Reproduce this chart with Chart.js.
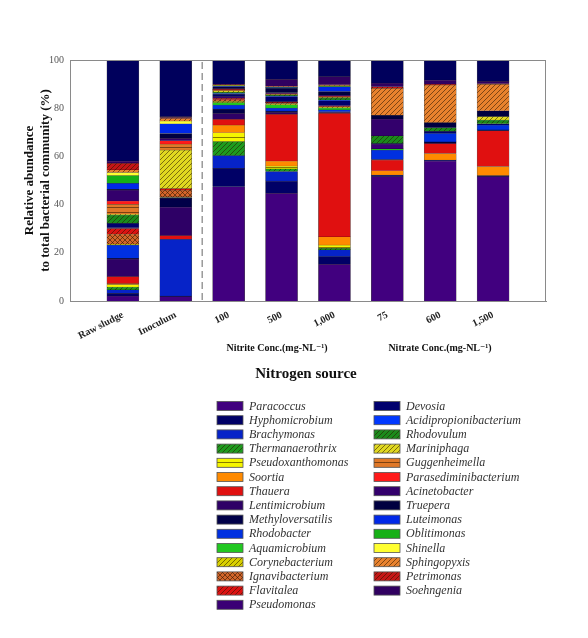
<!DOCTYPE html>
<html lang="en">
<head>
  <meta charset="UTF-8">
  <title>Relative abundance by nitrogen source</title>
  <script src="https://cdn.jsdelivr.net/npm/chart.js"></script>
  <style>
    body { margin: 0; padding: 0; background: #fff; }
    #wrap { width: 588px; height: 638px; }
  </style>
</head>
<body>
  <div id="wrap"><canvas id="chart" width="588" height="638"></canvas></div>

  <script>
    const categories = ['Raw sludge', 'Inoculum', '100', '500', '1,000', '75', '600', '1,500'];
    const species = [
      'Paracoccus', 'Hyphomicrobium', 'Brachymonas', 'Thermanaerothrix', 'Pseudoxanthomonas',
      'Soortia', 'Thauera', 'Lentimicrobium', 'Methyloversatilis', 'Rhodobacter',
      'Aquamicrobium', 'Corynebacterium', 'Ignavibacterium', 'Flavitalea', 'Pseudomonas',
      'Devosia', 'Acidipropionibacterium', 'Rhodovulum', 'Mariniphaga', 'Guggenheimella',
      'Parasediminibacterium', 'Acinetobacter', 'Truepera', 'Luteimonas', 'Oblitimonas',
      'Shinella', 'Sphingopyxis', 'Petrimonas', 'Soehngenia'
    ];
    const yTicks = [0, 20, 40, 60, 80, 100];

    // relative abundance (%) of each species, in species order, one array per sample
    const rawSludge   = [2.0, 1.2, 1.4, 1.2, 1.0, 0.4, 2.9, 7.3, 0.3, 5.5, 0, 0.4, 4.2, 2.3, 0.3, 1.8, 0, 3.5, 0.3, 4.1, 1.4, 4.5, 0.3, 2.5, 3.2, 1.3, 1.1, 2.7, 1.0];
    const inoculum    = [1.8, 0.2, 23.6, 0, 0, 0, 1.5, 11.9, 3.6, 0.3, 0, 0.3, 2.8, 0.6, 0, 0, 0, 0, 16.0, 2.5, 1.4, 1.0, 2.0, 4.0, 0, 1.2, 1.0, 0.4, 0.4];
    const nitrite100  = [47.4, 7.6, 5.3, 5.8, 3.7, 3.2, 2.4, 2.5, 1.7, 1.7, 1.0, 0.6, 0.6, 0.6, 0.7, 1.0, 0.3, 0.6, 0.5, 0.3, 0.3, 0.3, 0.8, 0.2, 0.2, 0.2, 0.1, 0.1, 0.2];
    const nitrite500  = [44.7, 5.1, 3.9, 1.1, 1.2, 2.1, 19.4, 0.8, 0.5, 1.2, 1.4, 0.5, 0.3, 0.2, 0.3, 2.0, 0.3, 0.4, 0.2, 0.2, 0.2, 0.4, 2.0, 0.2, 0.1, 0.1, 0.1, 0.1, 3.0];
    const nitrite1000 = [15.2, 3.2, 2.8, 0.7, 1.3, 3.4, 51.3, 0.3, 0.3, 0.8, 0.8, 0.3, 0.2, 0.2, 0.3, 2.0, 0.3, 0.8, 0.3, 0.2, 0.2, 0.5, 1.5, 2.0, 0.2, 0.2, 0.2, 0.2, 3.4];
    const nitrate75   = [51.6, 0.7, 0, 0, 0, 1.7, 4.5, 0, 0.2, 3.9, 0.5, 0, 0, 0, 2.0, 0.2, 0, 3.2, 0, 0, 0, 7.0, 1.5, 0, 0, 0, 11.2, 0.7, 1.5];
    const nitrate600  = [58.1, 0.4, 0, 0, 0, 2.7, 4.1, 0.3, 0.4, 3.6, 0, 0, 0, 0, 0, 0.8, 0, 1.5, 0, 0, 0, 0, 2.1, 0, 0, 0, 15.6, 0.3, 1.8];
    const nitrate1500 = [51.6, 0.4, 0, 0, 0, 3.8, 14.8, 0, 0.4, 2.0, 0, 0, 0, 0, 0, 0.5, 0, 1.6, 1.4, 0, 0, 0, 2.4, 0, 0, 0, 11.0, 0.2, 1.0];
    const others      = [41.9, 23.5, 10.1, 8.0, 6.9, 9.6, 8.3, 8.9];

    const samples = [rawSludge, inoculum, nitrite100, nitrite500, nitrite1000, nitrate75, nitrate600, nitrate1500];

    // colour and fill style per species (same order as species)
    const fills = [
      ['#41007f', 'solid'], ['#000066', 'solid'], ['#0623c8', 'solid'], ['#1e9a1e', 'hatch'], ['#f5f500', 'hlines'],
      ['#ff8a00', 'solid'], ['#e01010', 'solid'], ['#2e0066', 'solid'], ['#000048', 'solid'], ['#0030e0', 'solid'],
      ['#22c822', 'solid'], ['#d8d000', 'hatch'], ['#d2652a', 'cross'], ['#dc1212', 'hatch'], ['#3a0075', 'solid'],
      ['#00006e', 'solid'], ['#0038ff', 'solid'], ['#1b8a1b', 'hatch'], ['#e0d820', 'hatch'], ['#e07828', 'hlines'],
      ['#ff1a1a', 'solid'], ['#33006c', 'solid'], ['#000040', 'solid'], ['#0028e8', 'solid'], ['#16b016', 'solid'],
      ['#ffff30', 'solid'], ['#e8822e', 'hatch'], ['#c41616', 'hatch'], ['#300060', 'solid']
    ];

    function makeFill(color, kind) {
      if (kind === 'solid') return color;
      const c = document.createElement('canvas');
      c.width = 5; c.height = 5;
      const g = c.getContext('2d');
      g.fillStyle = color;
      g.fillRect(0, 0, 5, 5);
      g.strokeStyle = 'rgba(40,20,0,0.55)';
      g.lineWidth = 1;
      g.beginPath();
      if (kind === 'hlines') {
        g.moveTo(0, 2.5); g.lineTo(5, 2.5);
      } else {
        g.moveTo(0, 5); g.lineTo(5, 0);
        g.moveTo(-1, 1); g.lineTo(1, -1);
        g.moveTo(4, 6); g.lineTo(6, 4);
        if (kind === 'cross') {
          g.moveTo(0, 0); g.lineTo(5, 5);
        }
      }
      g.stroke();
      return g.createPattern(c, 'repeat');
    }

    const serif = "'Liberation Serif', 'DejaVu Serif', serif";
    Chart.defaults.font.family = serif;

    // empty slot at each end of the axis
    const labels = [''].concat(categories, ['']);
    const pad = arr => [null].concat(arr.map(v => v > 0 ? v : null), [null]);

    const datasets = species.map((name, i) => ({
      label: name,
      data: pad(samples.map(s => s[i])),
      backgroundColor: makeFill(fills[i][0], fills[i][1]),
      borderColor: 'rgba(0,0,0,0.7)',
      borderWidth: 0.5,
      stack: 's'
    }));
    datasets.push({
      label: 'Others',
      data: pad(others),
      backgroundColor: '#00005c',
      borderColor: 'rgba(0,0,0,0.7)',
      borderWidth: 0.5,
      stack: 's',
      hideInLegend: true
    });

    const extras = {
      id: 'extras',
      afterDraw(chart) {
        const ctx = chart.ctx;
        const a = chart.chartArea;
        const x = chart.scales.x;
        ctx.save();
        // frame
        ctx.strokeStyle = '#8a8a8a';
        ctx.lineWidth = 1;
        ctx.strokeRect(a.left + 0.5, a.top + 0.5, a.right - a.left - 1, a.bottom - a.top);
        // dashed separator between Inoculum and nitrite bars
        const sx = (x.getPixelForValue(2) + x.getPixelForValue(3)) / 2;
        ctx.setLineDash([7, 4]);
        ctx.strokeStyle = '#9a9a9a';
        ctx.lineWidth = 1.5;
        ctx.beginPath();
        ctx.moveTo(sx, a.top + 2);
        ctx.lineTo(sx, a.bottom);
        ctx.stroke();
        ctx.setLineDash([]);

        // group labels
        ctx.fillStyle = '#111';
        ctx.textAlign = 'center';
        ctx.textBaseline = 'middle';
        ctx.font = 'bold 10px ' + serif;
        ctx.fillText('Nitrite Conc.(mg-NL\u207B\u00B9)', 277, 348);
        ctx.fillText('Nitrate Conc.(mg-NL\u207B\u00B9)', 440, 348);
        ctx.font = 'bold 15px ' + serif;
        ctx.fillText('Nitrogen source', 306, 374);

        // two-column legend
        ctx.textAlign = 'left';
        ctx.font = 'italic 12px ' + serif;
        let n = 0;
        chart.data.datasets.forEach(ds => {
          if (ds.hideInLegend) return;
          const col = n < 15 ? 0 : 1;
          const row = n % 15;
          const bx = col === 0 ? 217 : 374;
          const by = 406 + row * 14.2;
          ctx.fillStyle = ds.backgroundColor;
          ctx.fillRect(bx, by - 4.5, 26, 9);
          ctx.strokeStyle = '#555';
          ctx.lineWidth = 0.8;
          ctx.strokeRect(bx, by - 4.5, 26, 9);
          ctx.fillStyle = '#333';
          ctx.fillText(ds.label, bx + 32, by + 0.5);
          n++;
        });
        ctx.restore();
      }
    };

    new Chart(document.getElementById('chart'), {
      type: 'bar',
      data: { labels: labels, datasets: datasets },
      options: {
        responsive: false,
        animation: false,
        events: [],
        layout: { padding: { left: 0, top: 60, right: 42, bottom: 277 } },
        datasets: { bar: { barThickness: 32 } },
        plugins: { legend: { display: false }, tooltip: { enabled: false } },
        scales: {
          x: {
            stacked: true,
            offset: false,
            grid: { display: false, drawTicks: false },
            border: { color: '#8a8a8a' },
            ticks: {
              autoSkip: false,
              minRotation: 27,
              maxRotation: 27,
              padding: 8,
              color: '#222',
              font: { size: 10, weight: 'bold' }
            },
            afterFit: s => { s.height = 60; }
          },
          y: {
            stacked: true,
            min: 0,
            max: 100,
            grid: { display: false, drawTicks: false },
            border: { color: '#8a8a8a' },
            afterBuildTicks: s => { s.ticks = yTicks.map(v => ({ value: v })); },
            ticks: { color: '#555', font: { size: 10 }, padding: 6 },
            title: {
              display: true,
              text: ['Relative abundance', 'to total bacterial community (%)'],
              color: '#111',
              font: { size: 13, weight: 'bold' },
              padding: { top: 22, bottom: 0 }
            },
            afterFit: s => { s.width = 70; }
          }
        }
      },
      plugins: [extras]
    });
  </script>
</body>
</html>
